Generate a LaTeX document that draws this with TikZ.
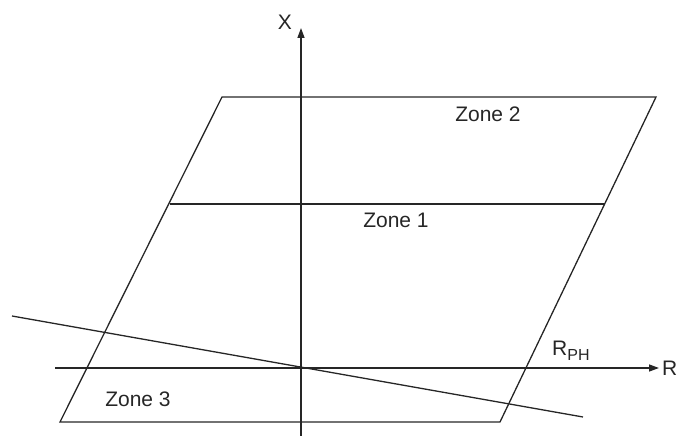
\documentclass[tikz,border=0pt]{standalone}
\usepackage{fontspec}
\setmainfont{Liberation Sans}
\usetikzlibrary{arrows.meta}
\begin{document}
\begin{tikzpicture}[x=1pt,y=-1pt,
  ln/.style={line width=1.3pt,black!85},
  ax/.style={line width=1.3pt,black!85,-{Triangle[length=10pt,width=7pt]}},
  lbl/.style={font=\fontsize{21}{24}\selectfont,text=black!85,inner sep=0pt}]
\useasboundingbox (0,0) rectangle (678,438);
% parallelogram corners
\coordinate (tl) at (222,97);
\coordinate (tr) at (656,97);
\coordinate (bl) at (60,422);
\coordinate (br) at (500,422);
\coordinate (ml) at (170,204);
\coordinate (mr) at (605,204);
% axes
\coordinate (xb) at (301,436);
\coordinate (xt) at (301,28);
\coordinate (rl) at (55,368);
\coordinate (rr) at (659,368);
% slanted line
\coordinate (sa) at (12,316);
\coordinate (sb) at (583,417);
\draw[ln] (tl) -- (tr) -- (br) -- (bl) -- cycle;
\draw[ln] (ml) -- (mr);
\draw[ln] (sa) -- (sb);
\draw[ax] (xb) -- (xt);
\draw[ax] (rl) -- (rr);
\node[lbl] (xlab) at (285,22) {X};
\node[lbl,anchor=west] (rlab) at (662,368) {R};
\node[lbl] (z2) at (488,114) {Zone 2};
\node[lbl] (z1) at (396,220) {Zone 1};
\node[lbl] (z3) at (138,399) {Zone 3};
\node[lbl,anchor=base west] (rph) at (552,356) {R\raisebox{-5pt}{\fontsize{16}{18}\selectfont PH}};
\end{tikzpicture}
\end{document}
